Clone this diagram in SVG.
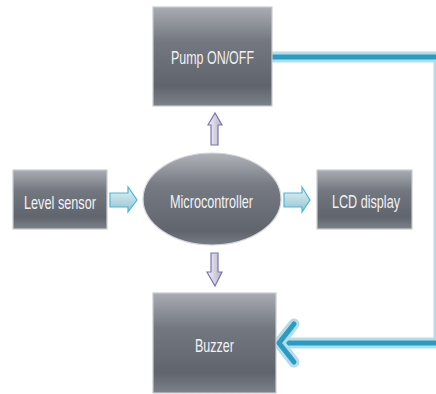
<svg xmlns="http://www.w3.org/2000/svg" width="436" height="394" viewBox="0 0 436 394">
<defs>
<linearGradient id="gBox" x1="0" y1="0" x2="0" y2="1">
<stop offset="0" stop-color="#a9acb2"/>
<stop offset="0.35" stop-color="#737780"/>
<stop offset="0.8" stop-color="#60646d"/>
<stop offset="1" stop-color="#7d8189"/>
</linearGradient>
<linearGradient id="gEll" x1="0" y1="0" x2="0" y2="1">
<stop offset="0" stop-color="#b0b3b9"/>
<stop offset="0.35" stop-color="#767a83"/>
<stop offset="0.85" stop-color="#60646d"/>
<stop offset="1" stop-color="#777b84"/>
</linearGradient>
<linearGradient id="gBlue" x1="0" y1="0" x2="0" y2="1">
<stop offset="0" stop-color="#e4f3f6"/>
<stop offset="1" stop-color="#93c4d0"/>
</linearGradient>
<linearGradient id="gPurp" x1="0" y1="0" x2="1" y2="0">
<stop offset="0" stop-color="#f4f3f8"/>
<stop offset="1" stop-color="#b4b1c6"/>
</linearGradient>
<style>
.box{fill:url(#gBox);stroke:#c9cbd1;stroke-width:1.2}
.lbl{font-family:"Liberation Sans",Arial,sans-serif;font-size:19px;fill:#f2f2f4;text-anchor:middle}
.barrow{fill:url(#gBlue);stroke:#4cb6d6;stroke-width:1.2}
.parrow{fill:url(#gPurp);stroke:#7d73b3;stroke-width:1.2}
.halo{fill:none;stroke:#b4dde9;stroke-width:11}
.core{fill:none;stroke:#2a9cc4;stroke-width:5}
</style>
</defs>
<rect width="436" height="394" fill="#ffffff"/>
<g id="connectors">
<path class="halo" d="M272 57 H439 V343 H282"/>
<path class="core" d="M272 57 H440"/>
<path class="core" d="M440 343 H282"/>
<path d="M294 324 L279 343 L294 362" fill="none" stroke="#b4dde9" stroke-width="11" stroke-linecap="round" stroke-linejoin="round"/>
<path d="M294 324 L279 343 L294 362" fill="none" stroke="#2a9cc4" stroke-width="5" stroke-linecap="round" stroke-linejoin="miter"/>
<path class="barrow" d="M110 193 H128 V187 L137 200 L128 212 V207 H110 Z"/>
<path class="barrow" d="M284 193 H302 V187 L310 200 L302 212 V207 H284 Z"/>
<path class="parrow" d="M211 145 V125 H208 L215 113 L222 125 H218 V145 Z"/>
<path class="parrow" d="M211 253 V272 H207 L215 286 L222 272 H218 V253 Z"/>
</g>
<g id="pump">
<rect class="box" x="153" y="7" width="119" height="99"/>
<text class="lbl" x="212.5" y="64" textLength="83" lengthAdjust="spacingAndGlyphs">Pump ON/OFF</text>
</g>
<g id="level-sensor">
<rect class="box" x="13" y="170" width="94" height="59"/>
<text class="lbl" x="60" y="209" textLength="72" lengthAdjust="spacingAndGlyphs">Level sensor</text>
</g>
<g id="microcontroller">
<ellipse cx="212" cy="199" rx="69" ry="46" fill="url(#gEll)" stroke="#d4d6da" stroke-width="1.2"/>
<text class="lbl" x="211.5" y="208" textLength="83" lengthAdjust="spacingAndGlyphs">Microcontroller</text>
</g>
<g id="lcd">
<rect class="box" x="317" y="170" width="95" height="59"/>
<text class="lbl" x="366" y="208" textLength="68" lengthAdjust="spacingAndGlyphs">LCD display</text>
</g>
<g id="buzzer">
<rect class="box" x="153" y="293" width="123" height="100"/>
<text class="lbl" x="214.5" y="352" textLength="39" lengthAdjust="spacingAndGlyphs">Buzzer</text>
</g>
</svg>
